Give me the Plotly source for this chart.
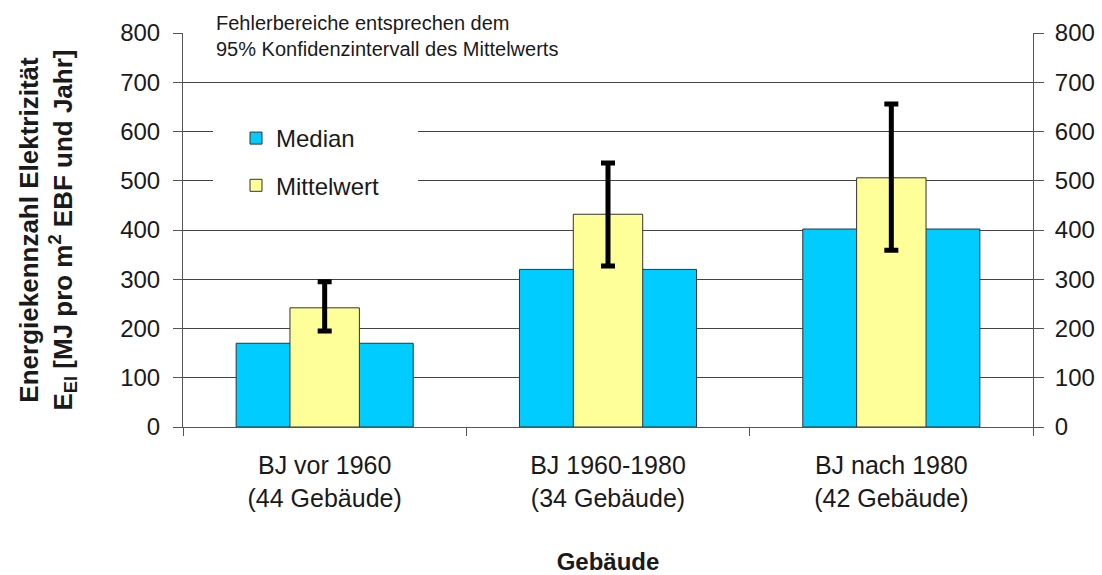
import plotly.graph_objects as go

categories = ["BJ vor 1960<br>(44 Gebäude)", "BJ 1960-1980<br>(34 Gebäude)", "BJ nach 1980<br>(42 Gebäude)"]
median = [170, 320, 402]
mittelwert = [242, 432, 506]
err_plus = [53, 104, 150]
err_minus = [47, 105, 147]
yticks = [0, 100, 200, 300, 400, 500, 600, 700, 800]

FONT = "Arial, Liberation Sans, sans-serif"
TXT = "#1a1a1a"

fig = go.Figure()
fig.add_trace(go.Bar(
    x=categories, y=median, name="Median", width=0.625,
    marker=dict(color="#00CCFF", line=dict(color="#333333", width=1)),
    legendgroup="a",
))
fig.add_trace(go.Bar(
    x=categories, y=mittelwert, name="Mittelwert", width=0.245,
    marker=dict(color="#FFFF99", line=dict(color="#333333", width=1)),
    error_y=dict(type="data", symmetric=False, array=err_plus, arrayminus=err_minus,
                 color="black", thickness=5, width=7),
    legendgroup="b",
))
fig.add_trace(go.Scatter(
    x=categories, y=median, yaxis="y2", mode="markers",
    marker=dict(opacity=0), showlegend=False, hoverinfo="skip",
))

W, H = 1102, 575
L, R, T, B = 183, 69, 33, 148
pw, ph = W - L - R, H - T - B

def px(xp):
    return (xp - L) / pw

def py(yp):
    return (H - B - yp) / ph

fig.update_layout(
    width=W, height=H,
    margin=dict(l=L, r=R, t=T, b=B, autoexpand=False),
    paper_bgcolor="white", plot_bgcolor="white",
    barmode="overlay",
    font=dict(family=FONT, size=24, color=TXT),
    showlegend=True,
    legend=dict(x=px(236), y=py(116), xanchor="left", yanchor="top",
                bgcolor="rgba(0,0,0,0)", font=dict(size=24, color=TXT),
                tracegroupgap=13, traceorder="grouped"),
    xaxis=dict(
        type="category", showline=True, linecolor="#555555", linewidth=1,
        ticks="outside", tickson="boundaries", ticklen=8, tickcolor="#555555",
        tickfont=dict(size=25, color=TXT), ticklabelstandoff=16,
        showgrid=False,
        title=dict(text="<b>Gebäude</b>", font=dict(size=24, color=TXT), standoff=50),
    ),
    yaxis=dict(
        range=[0, 800], tickvals=yticks, showline=True, linecolor="#555555", linewidth=1,
        ticks="outside", ticklen=9, tickcolor="#555555",
        tickfont=dict(size=24, color=TXT), ticklabelstandoff=8,
        showgrid=True, gridcolor="#444444", gridwidth=1, zeroline=False,
        title=dict(text="<b>Energiekennzahl Elektrizität<br>E<sub>El</sub> [MJ pro m<sup>2</sup> EBF und Jahr]</b>",
                   font=dict(size=26, color=TXT), standoff=40),
    ),
    yaxis2=dict(
        range=[0, 800], tickvals=yticks, overlaying="y", side="right",
        showline=True, linecolor="#555555", linewidth=1,
        ticks="outside", ticklen=10, tickcolor="#555555",
        tickfont=dict(size=24, color=TXT), ticklabelstandoff=6,
        showgrid=False, zeroline=False,
    ),
    shapes=[dict(type="rect", xref="paper", yref="paper",
                 x0=px(213), x1=px(418), y0=py(207), y1=py(110),
                 fillcolor="white", line=dict(width=0), layer="above")],
    annotations=[dict(
        text="Fehlerbereiche entsprechen dem<br>95% Konfidenzintervall des Mittelwerts",
        xref="paper", yref="paper", x=px(209), y=py(36), xanchor="left", yanchor="middle",
        align="left", showarrow=False, bgcolor="white", borderpad=6,
        font=dict(size=20, color=TXT),
    )],
)

fig.write_html(
    "out.html",
    config={"displayModeBar": False},
    post_script="document.body.style.margin='0';document.body.style.overflow='hidden';",
)
